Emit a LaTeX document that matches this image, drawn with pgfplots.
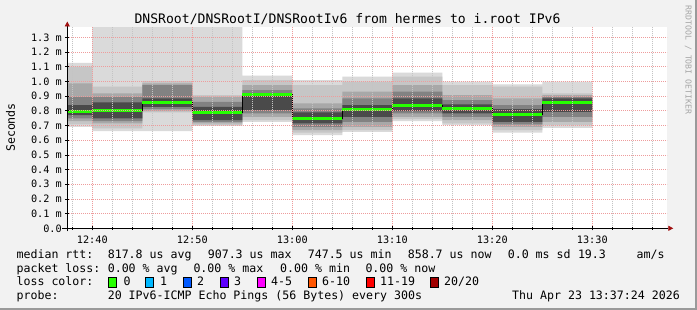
\documentclass[border=0pt]{standalone}
\usepackage{fontspec}
\setmainfont{DejaVu Sans Mono}
\usepackage{pgfplots}
\pgfplotsset{compat=1.18}
\usepackage{pgfplotstable}
\usepgfplotslibrary{fillbetween}
\usetikzlibrary{arrows.meta}

\definecolor{bgc}{HTML}{F2F2F2}
\definecolor{frm}{HTML}{9A9A9A}
\definecolor{mgrid}{HTML}{EE9C9C}
\definecolor{ngrid}{HTML}{C4C4C4}
\definecolor{arr}{HTML}{A01010}
\definecolor{s1}{HTML}{DADADA}
\definecolor{s2}{HTML}{C6C6C6}
\definecolor{s3}{HTML}{A8A8A8}
\definecolor{s4}{HTML}{828282}
\definecolor{s5}{HTML}{4A4A4A}
\definecolor{med}{HTML}{26FF00}
\definecolor{lc0}{HTML}{26FF00}
\definecolor{lc1}{HTML}{00B8FF}
\definecolor{lc2}{HTML}{0059FF}
\definecolor{lc3}{HTML}{5E00FF}
\definecolor{lc4}{HTML}{FF00FF}
\definecolor{lc5}{HTML}{FF5500}
\definecolor{lc6}{HTML}{FF0000}
\definecolor{lc7}{HTML}{A10000}

\newcommand\axf{\fontsize{10.2bp}{12bp}\selectfont}
\newcommand\lgf{\fontsize{11.6bp}{13bp}\selectfont}
\newcommand\ttf{\fontsize{13.1bp}{15bp}\selectfont}

% minutes after 12:00, values in ms
\pgfplotstableread{
t    med   u1    l1    u2    l2    u3    l3    u4    l4    u5    l5
37.5 0.795 1.127 0.691 1.100 0.707 0.986 0.730 0.895 0.748 0.839 0.770
40   0.805 1.450 0.661 0.964 0.680 0.918 0.714 0.895 0.730 0.857 0.748
45   0.857 1.450 0.661 1.002 0.789 0.986 0.798 0.975 0.811 0.884 0.827
50   0.789 1.450 0.698 0.907 0.702 0.895 0.714 0.861 0.725 0.827 0.736
55   0.909 1.039 0.725 1.009 0.736 0.975 0.759 0.941 0.782 0.918 0.805
60   0.748 1.009 0.634 0.975 0.652 0.850 0.668 0.816 0.691 0.789 0.714
65   0.807 1.032 0.657 0.998 0.668 0.930 0.691 0.884 0.725 0.839 0.759
70   0.836 1.059 0.730 1.032 0.743 0.975 0.759 0.930 0.782 0.884 0.798
75   0.818 0.998 0.702 0.975 0.714 0.907 0.736 0.873 0.759 0.843 0.782
80   0.775 0.980 0.652 0.964 0.668 0.884 0.691 0.839 0.707 0.811 0.725
85   0.857 0.998 0.684 0.918 0.702 0.907 0.725 0.895 0.759 0.884 0.793
90   0.857 0.998 0.684 0.918 0.702 0.907 0.725 0.895 0.759 0.884 0.793
}\smoke

\begin{document}
\begin{tikzpicture}
\fill[bgc] (-67.3bp,-81.7bp) rectangle (629.7bp,228.3bp);
\fill[frm] (-67.3bp,-81.7bp) rectangle (629.7bp,-79.4bp);
\fill[frm] (627.4bp,-81.7bp) rectangle (629.7bp,228.3bp);
\fill[white] (0,0) rectangle (600bp,200.8bp);

\begin{axis}[
  at={(0,0)}, anchor=south west,
  scale only axis, width=600bp, height=200.8bp,
  xmin=37.5, xmax=97.5, ymin=0, ymax=1.367,
  axis lines*=left,
  axis on top,
  fill between/on layer=main,
  x axis line style={black, line width=0.7bp, -{Triangle[length=5bp,width=5bp,color=arr]}, shorten >=-6bp, shorten <=-5bp},
  y axis line style={black, line width=0.7bp, -{Triangle[length=5bp,width=5bp,color=arr]}, shorten >=-6bp, shorten <=-3bp},
  xtick={40,50,60,70,80,90},
  xticklabels={12:40,12:50,13:00,13:10,13:20,13:30},
  minor xtick={38,42,44,46,48,52,54,56,58,62,64,66,68,72,74,76,78,82,84,86,88,92,94,96},
  ytick={0,0.1,0.2,0.3,0.4,0.5,0.6,0.7,0.8,0.9,1.0,1.1,1.2,1.3},
  yticklabels={0.0,0.1 m,0.2 m,0.3 m,0.4 m,0.5 m,0.6 m,0.7 m,0.8 m,0.9 m,1.0 m,1.1 m,1.2 m,1.3 m},
  tick label style={font=\axf, black},
  xticklabel style={yshift=-2bp},
  yticklabel style={xshift=0bp},
  tick align=center,
  major tick length=4bp, minor tick length=3bp,
  tick style={black, line width=0.6bp},
  grid=both,
  major grid style={mgrid, line width=0.7bp, dash pattern=on 1bp off 1bp},
  minor grid style={ngrid, line width=0.7bp, dash pattern=on 1bp off 1bp},
]
\addplot[draw=none, const plot, name path=U1] table[x=t,y=u1]{\smoke};
\addplot[draw=none, const plot, name path=L1] table[x=t,y=l1]{\smoke};
\addplot[draw=none, const plot, name path=U2] table[x=t,y=u2]{\smoke};
\addplot[draw=none, const plot, name path=L2] table[x=t,y=l2]{\smoke};
\addplot[draw=none, const plot, name path=U3] table[x=t,y=u3]{\smoke};
\addplot[draw=none, const plot, name path=L3] table[x=t,y=l3]{\smoke};
\addplot[draw=none, const plot, name path=U4] table[x=t,y=u4]{\smoke};
\addplot[draw=none, const plot, name path=L4] table[x=t,y=l4]{\smoke};
\addplot[draw=none, const plot, name path=U5] table[x=t,y=u5]{\smoke};
\addplot[draw=none, const plot, name path=L5] table[x=t,y=l5]{\smoke};
\addplot[s1, draw=none] fill between[of=U1 and L1];
\addplot[s2, draw=none] fill between[of=U2 and L2];
\addplot[s3, draw=none] fill between[of=U3 and L3];
\addplot[s4, draw=none] fill between[of=U4 and L4];
\addplot[s5, draw=none] fill between[of=U5 and L5];
\addplot[const plot, black, line width=1bp] table[x=t,y=med]{\smoke};
\addplot[jump mark left, med, line width=3bp] table[x=t,y=med]{\smoke};
\end{axis}

% title and labels
\node[anchor=base, inner sep=0, font=\ttf] at (280.2bp,204.3bp) {DNSRoot/DNSRootI/DNSRootIv6 from hermes to i.root IPv6};
\node[rotate=90, inner sep=0, font=\lgf] at (-56.8bp,100.8bp) {Seconds};
\node[rotate=-90, inner sep=0, font=\fontsize{8.2bp}{9bp}\selectfont, text=black!35] at (620.9bp,168.3bp) {RRDTOOL / TOBI OETIKER};

% legend rows
\begin{scope}[every node/.style={anchor=base west, inner sep=0, font=\lgf}]
\node at (-50.9bp,-30bp) {median rtt:};
\node at (40.3bp,-30bp) {817.8 us avg};
\node at (140.3bp,-30bp) {907.3 us max};
\node at (240.3bp,-30bp) {747.5 us min};
\node at (340.3bp,-30bp) {858.7 us now};
\node at (440.3bp,-30bp) {0.0 ms sd};
\node at (510.5bp,-30bp) {19.3};
\node at (569.1bp,-30bp) {am/s};

\node at (-50.9bp,-43.7bp) {packet loss:};
\node at (40.3bp,-43.7bp) {0.00 \% avg};
\node at (126bp,-43.7bp) {0.00 \% max};
\node at (212.7bp,-43.7bp) {0.00 \% min};
\node at (298bp,-43.7bp) {0.00 \% now};

\node at (-50.9bp,-57.4bp) {loss color:};
\node at (56.2bp,-57.4bp) {0};
\node at (92.7bp,-57.4bp) {1};
\node at (129.7bp,-57.4bp) {2};
\node at (166.7bp,-57.4bp) {3};
\node at (203.7bp,-57.4bp) {4-5};
\node at (254.7bp,-57.4bp) {6-10};
\node at (312.7bp,-57.4bp) {11-19};
\node at (376.7bp,-57.4bp) {20/20};

\node at (-50.9bp,-71bp) {probe:};
\node at (40.3bp,-71bp) {20 IPv6-ICMP Echo Pings (56 Bytes) every 300s};
\node[anchor=base east] at (612.7bp,-71bp) {Thu Apr 23 13:37:24 2026};
\end{scope}

\foreach \bx/\bc in {40.7/lc0,78/lc1,115.7/lc2,152.7/lc3,189.7/lc4,240.7/lc5,298.7/lc6,362.7/lc7}{
  \filldraw[fill=\bc, draw=black, line width=0.6bp] (\bx bp,-58.6bp) rectangle ++(8.4bp,10bp);
}
\pgfresetboundingbox
\path[use as bounding box] (-67.3bp,-81.7bp) rectangle (629.7bp,228.3bp);
\end{tikzpicture}
\end{document}
